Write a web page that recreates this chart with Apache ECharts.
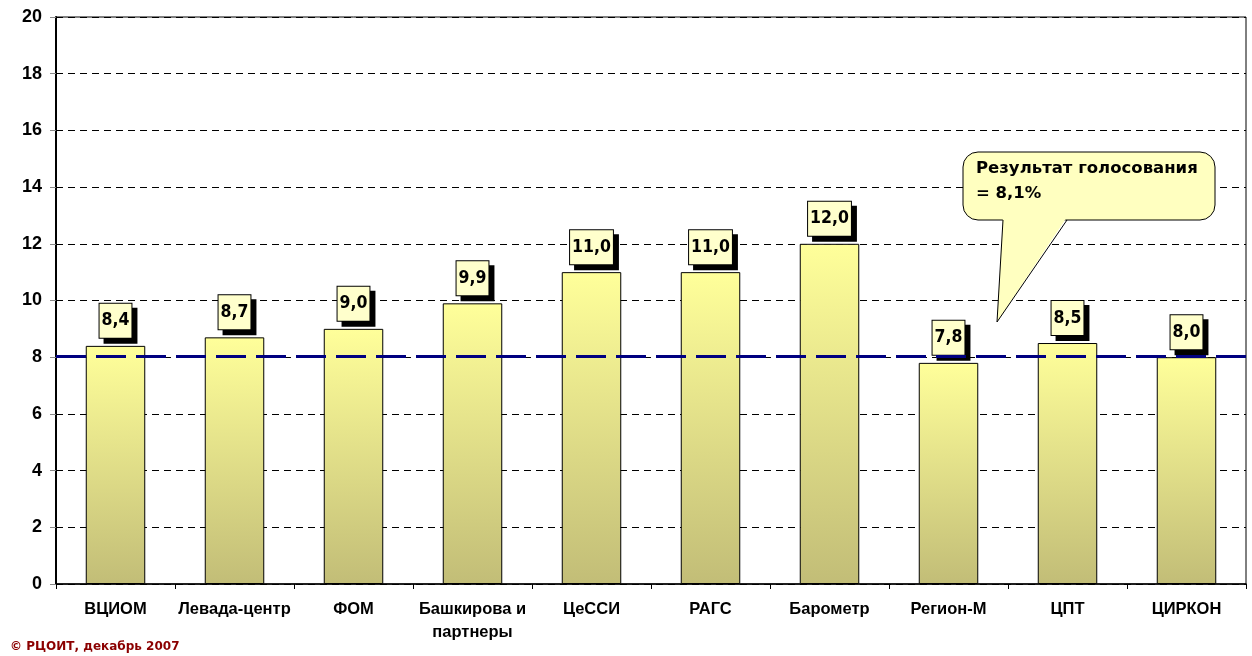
<!DOCTYPE html>
<html><head><meta charset="utf-8">
<script src="https://cdn.jsdelivr.net/npm/echarts@6/dist/echarts.min.js"></script>
<style>html,body{margin:0;padding:0;background:#fff}#c{width:1252px;height:656px}</style>
</head><body><div id="c"></div>
<script>
const categories = ['ВЦИОМ','Левада-центр','ФОМ','Башкирова и\nпартнеры','ЦеССИ','РАГС','Барометр','Регион-М','ЦПТ','ЦИРКОН'];
const values = [8.4, 8.7, 9.0, 9.9, 11.0, 11.0, 12.0, 7.8, 8.5, 8.0];
const voteLine = 8.05;
const yTicks = [0,2,4,6,8,10,12,14,16,18,20];
const calloutText = ['Результат голосования', '= 8,1%'];
const copyright = '© РЦОИТ, декабрь 2007';

const chart = echarts.init(document.getElementById('c'), null, {renderer:'canvas'});
const fmt = v => v.toFixed(1).replace('.', ',');
chart.setOption({
  animation:false,
  grid:{left:56, right:6, top:17, bottom:72, show:true, borderColor:'#000', borderWidth:1, backgroundColor:'transparent'},
  xAxis:{type:'category', data:categories,
    axisLine:{lineStyle:{color:'#000', width:1.5}},
    axisTick:{show:true, length:5, lineStyle:{color:'#000'}},
    axisLabel:{color:'#000', fontFamily:'Liberation Sans', fontWeight:'bold', fontSize:16.5, margin:14, lineHeight:23, interval:0}},
  yAxis:{type:'value', min:yTicks[0], max:yTicks[yTicks.length-1], interval:2,
    axisLine:{show:true, lineStyle:{color:'#000', width:2}},
    axisTick:{show:true, length:6, lineStyle:{color:'#888'}},
    axisLabel:{color:'#000', fontFamily:'Liberation Sans', fontWeight:'bold', fontSize:18, margin:14},
    splitLine:{show:true, lineStyle:{color:'#000', type:[7,5], width:1}}},
  series:[{type:'bar', data:values, barWidth:'50%',
    itemStyle:{borderColor:'#000', borderWidth:1,
      color:new echarts.graphic.LinearGradient(0,0,0,1,[{offset:0,color:'#FFFF9A'},{offset:1,color:'#C2BD77'}]),},
    label:{show:true, position:'top', distance:8, formatter:p=>fmt(p.value),
      fontFamily:'DejaVu Sans Condensed, DejaVu Sans', fontWeight:'bold', fontSize:17.5, lineHeight:18, color:'#000',
      backgroundColor:'#FFFFCC', borderColor:'#000', borderWidth:1, padding:[8,2,8,2],
      shadowColor:'#000', shadowOffsetX:5, shadowOffsetY:5, shadowBlur:0},
    markLine:{symbol:'none', silent:true, label:{show:false},
      lineStyle:{color:'#000080', type:[30,10], width:3},
      data:[{yAxis:voteLine}]},
    z:2
  }],
  graphic:[
    {type:'rect', shape:{x:963,y:152,width:252,height:68,r:15}, style:{fill:'#FFFFC0', stroke:'#000', lineWidth:1}, z:10},
    {type:'polygon', shape:{points:[[1003,217],[1067,217],[997,322]]}, style:{fill:'#FFFFC0', stroke:null}, z:11},
    {type:'polyline', shape:{points:[[1067,220],[997,322],[1003,220]]}, style:{stroke:'#000', lineWidth:1, fill:null}, z:12},
    {type:'text', left:976, top:156, style:{text:calloutText.join('\n'), fontFamily:'DejaVu Sans', fontWeight:'bold', fontSize:16.5, lineHeight:25, fill:'#000'}, z:13},
    {type:'text', left:10, top:641, style:{text:copyright, fontFamily:'DejaVu Sans', fontWeight:'bold', fontSize:12, fill:'#8B0000'}, z:13}
  ]
});
</script></body></html>
